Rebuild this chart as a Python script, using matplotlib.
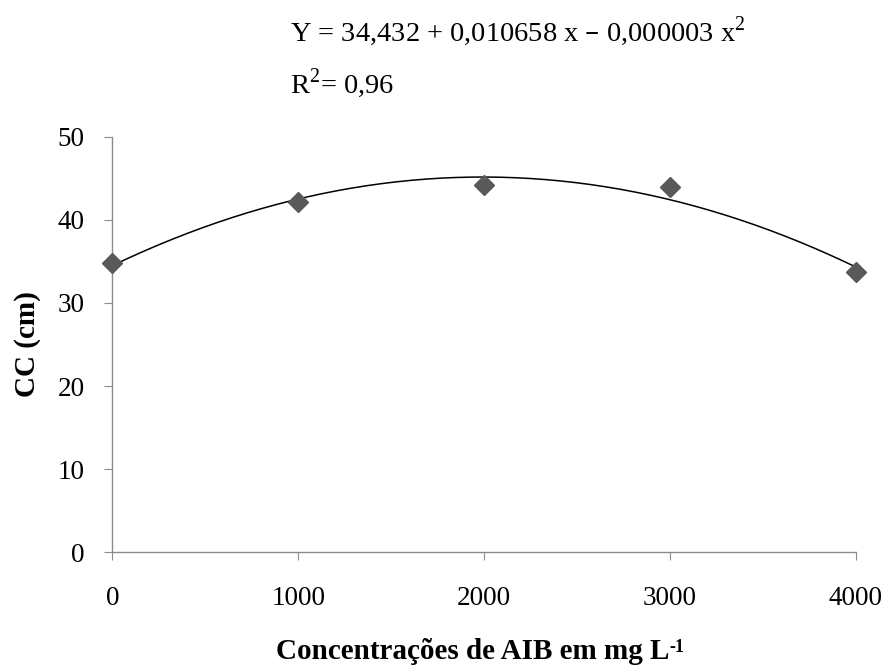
import numpy as np
import matplotlib.pyplot as plt

plt.rcParams['font.family'] = ['Liberation Serif', 'DejaVu Serif']

conc = [0, 1000, 2000, 3000, 4000]
cc = [34.8, 42.2, 44.2, 44.0, 33.7]
x_ticks = [0, 1000, 2000, 3000, 4000]
y_ticks = [0, 10, 20, 30, 40, 50]

# polynomial trendline (2nd order) fitted to the points
coef = np.polyfit(conc, cc, 2)
xs = np.linspace(0, 4000, 200)
ys = np.polyval(coef, xs)

fig = plt.figure(figsize=(8.84, 6.67), dpi=100)
ax = fig.add_axes([0.127, 0.172, 0.841, 0.623])

ax.plot(xs, ys, color='black', linewidth=1.1, clip_on=False)
ax.plot(conc, cc, 'D', color='#595959', markersize=10.5, clip_on=False, zorder=3)

ax.set_xlim(0, 4000)
ax.set_ylim(0, 50)
ax.set_xticks(x_ticks)
ax.set_yticks(y_ticks)

for s in ['top', 'right']:
    ax.spines[s].set_visible(False)
for s in ['left', 'bottom']:
    ax.spines[s].set_color('#8c8c8c')
    ax.spines[s].set_linewidth(1.0)
ax.tick_params(axis='both', direction='out', length=6, color='#8c8c8c',
               labelsize=19.5)
ax.tick_params(axis='x', pad=18)
ax.tick_params(axis='y', pad=14)

ax.set_ylabel('CC (cm)', fontsize=21, fontweight='bold', labelpad=12)
xl = fig.text(0.535, 0.012, 'Concentrações de AIB em mg L',
              fontsize=21, fontweight='bold', ha='center', va='baseline')
# superscript "-1" with a plain hyphen, tucked after the label
ax.annotate('-1', xy=(1, 1), xycoords=xl, xytext=(0, -1),
            textcoords='offset points', fontsize=13, fontweight='bold',
            ha='left', va='top')

fig.text(0.328, 0.940, 'Y = 34,432 + 0,010658 x – 0,000003 x$^{\\mathregular{2}}$',
         fontsize=20.5, va='baseline', ha='left')
fig.text(0.328, 0.861, 'R$^{\\mathregular{2}}$= 0,96', fontsize=20.5,
         va='baseline', ha='left')

fig.savefig('out.png', dpi=100)
